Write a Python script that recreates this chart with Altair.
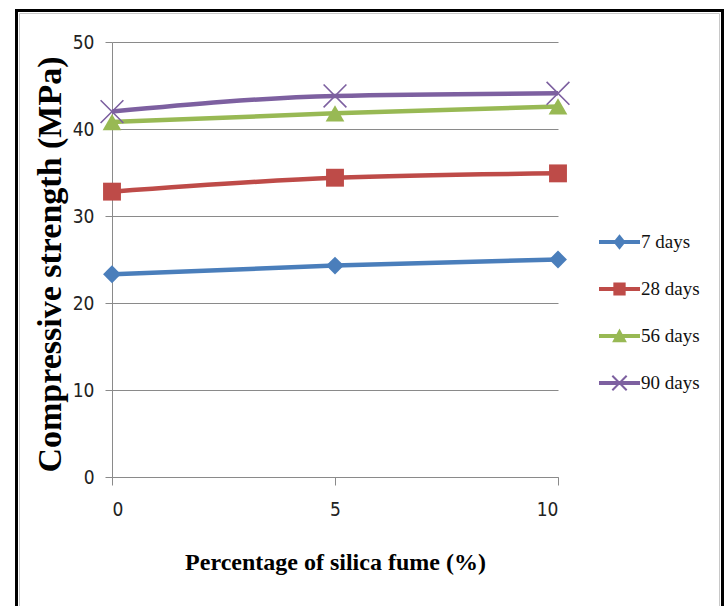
import altair as alt
import pandas as pd

# ---- data ----
silica_fume = [0, 5, 10]
series_names = ["7 days", "28 days", "56 days", "90 days"]
strength_7 = [23.3, 24.3, 25.0]
strength_28 = [32.8, 34.4, 34.9]
strength_56 = [40.8, 41.8, 42.6]
strength_90 = [42.0, 43.8, 44.1]
colors = ["#4A7EBB", "#BE4B48", "#98B954", "#7D60A0"]
x_ticks = [0, 5, 10]
y_ticks = [0, 10, 20, 30, 40, 50]

values = [strength_7, strength_28, strength_56, strength_90]
rows = []
for name, vals in zip(series_names, values):
    for xv, yv in zip(silica_fume, vals):
        rows.append({"pct": xv, "strength": yv, "series": name})
df = pd.DataFrame(rows)
legend_df = pd.DataFrame({"series": series_names})

# legend symbol paths: line + marker (unit space -1..1)
line_rect = "M-1,-0.1L1,-0.1L1,0.1L-1,0.1Z"
legend_paths = [
    line_rect + "M0,-0.38L0.3,0L0,0.38L-0.3,0Z",
    line_rect + "M-0.3,-0.32L0.3,-0.32L0.3,0.32L-0.3,0.32Z",
    line_rect + "M0,-0.36L0.36,0.3L-0.36,0.3Z",
    line_rect + "M-0.385,-0.315L-0.315,-0.385L0.385,0.315L0.315,0.385Z"
              + "M-0.385,0.315L0.315,-0.385L0.385,-0.315L-0.315,0.385Z",
]
marker_shapes = ["diamond", "square", "triangle-up", "M-1,-1L1,1M-1,1L1,-1"]
marker_sizes = [320, 320, 350, 520]

sans_narrow = "Liberation Sans Narrow, DejaVu Sans Condensed, Roboto, sans-serif"

x_enc = alt.X("pct:Q",
              scale=alt.Scale(domain=[0, 10], nice=False, zero=False),
              axis=alt.Axis(values=x_ticks, title="Percentage of silica fume (%)",
                            grid=False, tickSize=8, labelPadding=15,
                            titleY=85, titleBaseline="middle"))
y_enc = alt.Y("strength:Q",
              scale=alt.Scale(domain=[0, 50], nice=False),
              axis=alt.Axis(values=y_ticks, title="Compressive strength (MPa)",
                            grid=True, tickSize=7, labelPadding=11,
                            titleX=-52, titleY=222, titleAngle=270,
                            titleAlign="center", titleBaseline="alphabetic",
                            titleFontSize=34))

lines = alt.Chart(df).mark_line(interpolate="monotone", strokeWidth=4.5).encode(
    x=x_enc, y=y_enc,
    stroke=alt.Stroke("series:N", scale=alt.Scale(domain=series_names, range=colors),
                      legend=None),
    detail="series:N",
)

layers = [lines]
for name, col, shp, sz in zip(series_names, colors, marker_shapes, marker_sizes):
    if shp.startswith("M"):
        mk = alt.Chart(df).mark_point(shape=shp, size=sz, filled=False,
                                      stroke=col, strokeWidth=1.6, opacity=1)
    else:
        mk = alt.Chart(df).mark_point(shape=shp, size=sz, filled=True,
                                      fill=col, opacity=1)
    layers.append(mk.encode(x="pct:Q", y="strength:Q").transform_filter(
        alt.datum.series == name))

frame_df = pd.DataFrame({"k": [0]})
frame = alt.Chart(frame_df).mark_rect(filled=False, stroke="black",
                                      strokeWidth=3).encode(
    x=alt.value(-95.5), x2=alt.value(610.5),
    y=alt.value(-31.5), y2=alt.value(600))
frame_inner = alt.Chart(frame_df).mark_rect(filled=False, stroke="#c8c8c8",
                                            strokeWidth=1).encode(
    x=alt.value(-92.5), x2=alt.value(607.5),
    y=alt.value(-28.5), y2=alt.value(600))

main = alt.layer(frame, frame_inner, *layers)

# ---- manual legend ----
leg_y = alt.Y("series:N", axis=None,
              scale=alt.Scale(type="point", domain=series_names,
                              range=[200, 341], padding=0))
leg_sym = alt.Chart(legend_df).mark_point(filled=True, size=1681, opacity=1,
                                          strokeWidth=0).encode(
    x=alt.value(507.5), y=leg_y,
    color=alt.Color("series:N", scale=alt.Scale(domain=series_names, range=colors),
                    legend=None),
    shape=alt.Shape("series:N", scale=alt.Scale(domain=series_names,
                                                range=legend_paths), legend=None),
)
leg_txt = alt.Chart(legend_df).mark_text(
    align="left", baseline="middle", font="Liberation Serif", fontSize=19,
    color="#111").encode(x=alt.value(529), y=leg_y, text="series:N")
legend = alt.layer(leg_sym, leg_txt)

chart = alt.layer(main, legend).resolve_scale(y="independent").properties(
    width=446, height=435,
    autosize=alt.AutoSizeParams(type="none"),
    padding={"left": 112, "top": 42, "right": 169, "bottom": 129},
    background="white",
).configure_view(stroke=None).configure_axis(
    domainColor="#8a8a8a", tickColor="#8a8a8a", gridColor="#8a8a8a",
    domainWidth=1, tickWidth=1, gridWidth=1,
    labelFont=sans_narrow, labelFontSize=19, labelColor="#222",
    titleFont="Liberation Serif", titleFontWeight="bold", titleFontSize=24,
    titleColor="#000",
)

chart.save("out.html", embed_options={"renderer": "svg", "actions": False})
